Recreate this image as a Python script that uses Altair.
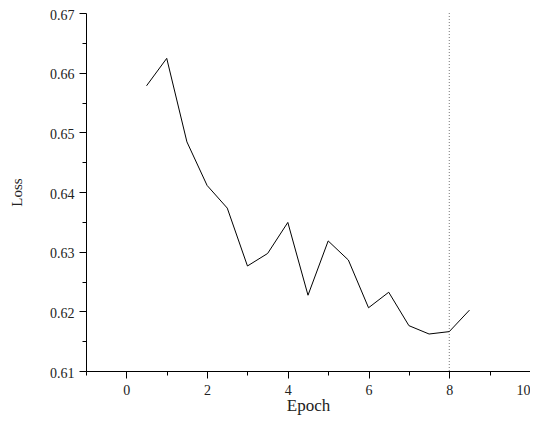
import altair as alt
import pandas as pd

epochs = [0.5, 1.0, 1.5, 2.0, 2.5, 3.0, 3.5, 4.0, 4.5, 5.0, 5.5, 6.0, 6.5, 7.0, 7.5, 8.0, 8.5]
loss = [0.6578, 0.6624, 0.6484, 0.6411, 0.6373, 0.6276, 0.6297, 0.6349, 0.6227,
        0.6318, 0.6286, 0.6206, 0.6232, 0.6176, 0.6162, 0.6166, 0.6202]
x_ticks = [-1, 0, 1, 2, 3, 4, 5, 6, 7, 8, 9, 10]
y_ticks = [0.61, 0.615, 0.62, 0.625, 0.63, 0.635, 0.64, 0.645, 0.65, 0.655, 0.66, 0.665, 0.67]
best_epoch = [8]

df = pd.DataFrame({"Epoch": epochs, "Loss": loss})
vdf = pd.DataFrame({"Epoch": best_epoch})

FONT = "Liberation Serif"

x_scale = alt.Scale(domain=[-1, 10], nice=False, zero=False)
y_scale = alt.Scale(domain=[0.61, 0.67], nice=False, zero=False)

x_axis = alt.Axis(
    values=x_ticks,
    labelExpr="(datum.value % 2 === 0) ? datum.label : ''",
    tickSize={"condition": {"test": "datum.value % 2 === 0", "value": 7}, "value": 4},
    title="Epoch",
    titleFontSize=17,
    grid=False,
    labelPadding=5,
    titlePadding=0,
)
y_axis = alt.Axis(
    values=y_ticks,
    format=".2f",
    labelExpr="(round(datum.value * 1000) % 10 === 0) ? datum.label : ''",
    tickSize={"condition": {"test": "round(datum.value * 1000) % 10 === 0", "value": 7}, "value": 4},
    title="Loss",
    titleFontSize=15,
    grid=False,
    labelPadding=5,
    labelOffset=2,
    titlePadding=25,
)

line = alt.Chart(df).mark_line(color="black", strokeWidth=1).encode(
    x=alt.X("Epoch:Q", scale=x_scale, axis=x_axis),
    y=alt.Y("Loss:Q", scale=y_scale, axis=y_axis),
)

vline = alt.Chart(vdf).mark_rule(color="#777777", strokeWidth=1, strokeDash=[1, 2]).encode(
    x=alt.X("Epoch:Q", scale=x_scale),
)

chart = alt.layer(vline, line).properties(
    width=444,
    height=358,
    autosize=alt.AutoSizeParams(type="none"),
    padding={"left": 78, "top": 5, "right": 0, "bottom": 44},
).configure_view(stroke=None).configure_axis(
    domainColor="black",
    domainWidth=1,
    tickColor="black",
    tickWidth=1,
    labelFont=FONT,
    labelFontSize=14,
    labelColor="#222222",
    titleFont=FONT,
    titleFontWeight="normal",
    titleColor="#222222",
)

chart.save("out.html", embed_options={"renderer": "svg", "actions": False})
